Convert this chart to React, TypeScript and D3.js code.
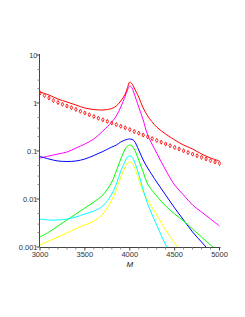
import React, { Component } from 'react';
import * as d3 from 'd3';

// sample points along M (dense near the resonance)
const mGrid = [3000, 3100, 3200, 3300, 3400, 3500, 3600, 3700, 3800, 3850, 3900, 3950, 3975, 4000, 4025, 4050, 4100, 4150, 4200, 4300, 4400, 4500, 4600, 4700, 4800, 4900, 5000];

const redCurve = [1.69, 1.47, 1.21, 1.05, 0.908, 0.787, 0.732, 0.715, 0.768, 0.866, 1.10, 1.54, 2.10, 2.74, 2.49, 2.05, 1.33, 0.787, 0.536, 0.316, 0.226, 0.170, 0.133, 0.110, 0.0866, 0.0715, 0.0619];
const magentaCurve = [0.0715, 0.0787, 0.0866, 0.0953, 0.115, 0.140, 0.178, 0.261, 0.402, 0.536, 0.825, 1.40, 1.87, 2.26, 2.05, 1.54, 0.825, 0.442, 0.215, 0.0909, 0.0402, 0.0196, 0.0121, 0.0075, 0.00536, 0.00383, 0.00274];
const blueCurve = [0.0768, 0.0681, 0.0619, 0.0605, 0.0619, 0.0681, 0.0806, 0.0976, 0.121, 0.133, 0.154, 0.170, 0.175, 0.178, 0.174, 0.162, 0.105, 0.0649, 0.0442, 0.0226, 0.0121, 0.0065, 0.00365, 0.00205, 0.00127, 0.000787, 0.000487];
const greenCurve = [0.00162, 0.00205, 0.00274, 0.00365, 0.00487, 0.0065, 0.00866, 0.0121, 0.0226, 0.0383, 0.0681, 0.110, 0.127, 0.133, 0.127, 0.110, 0.0649, 0.0365, 0.0205, 0.01155, 0.00715, 0.00487, 0.00348, 0.00237, 0.00162, 0.0011, 0.000787];
const cyanCurve = [0.00383, 0.00365, 0.00365, 0.00383, 0.00422, 0.00487, 0.00562, 0.00715, 0.0127, 0.0205, 0.0383, 0.0619, 0.075, 0.0787, 0.075, 0.0619, 0.0332, 0.0154, 0.00787, 0.00287, 0.0011, 0.000487, 0.000226, 0.00011, 0.0000562, 0.00003, 0.000017];
const yellowCurve = [0.0011, 0.00133, 0.00162, 0.00196, 0.00243, 0.00287, 0.00348, 0.00487, 0.00953, 0.0154, 0.0287, 0.0464, 0.0562, 0.059, 0.0562, 0.0464, 0.0261, 0.014, 0.00953, 0.00464, 0.00226, 0.00121, 0.00065, 0.000365, 0.000205, 0.00012, 0.00007];

// point series (drawn with markers)
const pointM = [3000, 3050, 3100, 3150, 3200, 3250, 3300, 3350, 3400, 3450, 3500, 3550, 3600, 3650, 3700, 3750, 3800, 3850, 3900, 3950, 4000, 4050, 4100, 4150, 4200, 4250, 4300, 4350, 4400, 4450, 4500, 4550, 4600, 4650, 4700, 4750, 4800, 4850, 4900, 4950, 5000];
const pointValues = [1.615, 1.433, 1.271, 1.127, 1.024, 0.940, 0.866, 0.798, 0.736, 0.675, 0.619, 0.568, 0.523, 0.482, 0.447, 0.414, 0.383, 0.355, 0.329, 0.304, 0.279, 0.256, 0.235, 0.215, 0.198, 0.181, 0.166, 0.153, 0.140, 0.129, 0.119, 0.110, 0.101, 0.093, 0.0861, 0.0798, 0.0739, 0.0684, 0.0634, 0.059, 0.055];

const yTicks = [10, 1, 0.1, 0.01, 0.001];
const yTickLabels = ['10', '1', '0.1', '0.01', '0.001'];
const yMinorFactors = [2, 3, 5];
const xTicks = [3000, 3500, 4000, 4500, 5000];
const xMinorTicks = d3.range(3000, 5001, 100);

const series = [
  { values: magentaCurve, color: '#ff00ff' },
  { values: blueCurve, color: '#0000ff' },
  { values: greenCurve, color: '#00ff00' },
  { values: yellowCurve, color: '#ffff00' },
  { values: cyanCurve, color: '#00ffff' },
  { values: redCurve, color: '#ff0000' },
];

class App extends Component {
  chartRef = React.createRef<SVGSVGElement>();

  componentDidMount() {
    this.renderChart();
  }

  renderChart() {
    const svg = d3.select(this.chartRef.current);
    svg.selectAll('*').remove();

    const x = d3.scaleLinear().domain([3000, 5000]).range([40, 219.5]);
    const y = d3.scaleLog().domain([0.001, 10]).range([247, 55]);
    const axisColor = '#444';
    const font = 'Liberation Sans, Arial, sans-serif';

    svg.append('defs').append('clipPath').attr('id', 'plot-clip')
      .append('rect')
      .attr('x', x(3000))
      .attr('y', y(10) - 4)
      .attr('width', x(5000) - x(3000) + 2)
      .attr('height', y(0.001) - y(10) + 4);

    const plot = svg.append('g').attr('clip-path', 'url(#plot-clip)');

    const line = d3.line<number>()
      .x((_, i) => x(mGrid[i]))
      .y(d => y(d))
      .curve(d3.curveCatmullRom.alpha(0.5));

    series.forEach(s => {
      plot.append('path')
        .attr('d', line(s.values))
        .attr('fill', 'none')
        .attr('stroke', s.color)
        .attr('stroke-width', 1);
    });

    const diamond = d3.symbol().type(d3.symbolDiamond).size(5);
    plot.selectAll('.pt')
      .data(pointValues)
      .enter()
      .append('path')
      .attr('class', 'pt')
      .attr('transform', (d, i) => `translate(${x(pointM[i])},${y(d)})`)
      .attr('d', diamond() as string)
      .attr('fill', 'none')
      .attr('stroke', '#ff2020')
      .attr('stroke-width', 1);

    // y axis
    const ax = x(3000) - 0.5;
    svg.append('line')
      .attr('x1', ax).attr('x2', ax)
      .attr('y1', y(10) - 1).attr('y2', y(0.001))
      .attr('stroke', axisColor);

    const minor: number[] = [];
    yTicks.slice(1).forEach(t => yMinorFactors.forEach(f => minor.push(t * f)));
    svg.selectAll('.ymin')
      .data(minor)
      .enter()
      .append('line')
      .attr('x1', ax - 2).attr('x2', ax)
      .attr('y1', d => y(d)).attr('y2', d => y(d))
      .attr('stroke', '#888');

    svg.selectAll('.ymaj')
      .data(yTicks)
      .enter()
      .append('line')
      .attr('x1', ax - 3).attr('x2', ax)
      .attr('y1', d => y(d)).attr('y2', d => y(d))
      .attr('stroke', axisColor);

    svg.selectAll('.ylab')
      .data(yTicks)
      .enter()
      .append('text')
      .attr('x', ax - 2)
      .attr('y', d => y(d) + 2.5)
      .attr('text-anchor', 'end')
      .attr('font-family', font)
      .attr('font-size', 7.5)
      .attr('fill', '#333')
      .text((_, i) => yTickLabels[i]);

    // x axis
    const ay = y(0.001) + 0.5;
    svg.append('line')
      .attr('x1', ax).attr('x2', x(5000) + 1)
      .attr('y1', ay).attr('y2', ay)
      .attr('stroke', axisColor);

    svg.selectAll('.xmin')
      .data(xMinorTicks)
      .enter()
      .append('line')
      .attr('x1', d => x(d)).attr('x2', d => x(d))
      .attr('y1', ay).attr('y2', d => ay + (xTicks.includes(d) ? 3 : 2))
      .attr('stroke', d => xTicks.includes(d) ? axisColor : '#888');

    svg.selectAll('.xlab')
      .data(xTicks)
      .enter()
      .append('text')
      .attr('x', d => x(d))
      .attr('y', 257)
      .attr('text-anchor', 'middle')
      .attr('font-family', font)
      .attr('font-size', 7.5)
      .attr('fill', '#333')
      .text(d => String(d));

    svg.append('text')
      .attr('x', x(4000))
      .attr('y', 267)
      .attr('text-anchor', 'middle')
      .attr('font-family', font)
      .attr('font-style', 'italic')
      .attr('font-size', 8)
      .attr('fill', '#222')
      .text('M');
  }

  render() {
    return (
      <svg
        ref={this.chartRef}
        width={245}
        height={317}
        style={{ position: 'absolute', left: 0, top: 0, background: '#fff' }}
      />
    );
  }
}

export default App;
